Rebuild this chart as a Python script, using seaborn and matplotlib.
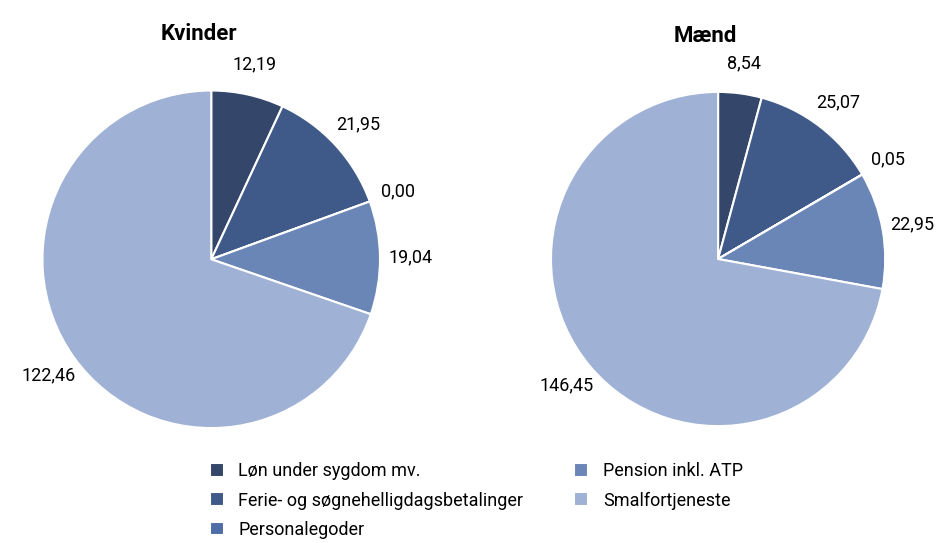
import matplotlib
matplotlib.use("Agg")
import matplotlib.pyplot as plt
from matplotlib import font_manager
import seaborn as sns

labels = ['Løn under sygdom mv.', 'Ferie- og søgnehelligdagsbetalinger',
          'Personalegoder', 'Pension inkl. ATP', 'Smalfortjeneste']
kvinder = [12.19, 21.95, 0.00, 19.04, 122.46]
maend = [8.54, 25.07, 0.05, 22.95, 146.45]
colors = ['#34466a', '#3f5a88', '#4f6ea8', '#6a86b6', '#9fb1d5']

sns.set_theme(style="white", rc={'text.color': 'black', 'axes.titlecolor': 'black'})
names = {f.name for f in font_manager.fontManager.ttflist}
fam = [n for n in ['Liberation Sans Narrow', 'DejaVu Sans Condensed', 'Roboto', 'DejaVu Sans'] if n in names]
plt.rcParams['font.family'] = fam

fig = plt.figure(figsize=(9.43, 5.43), dpi=100)
ax1 = fig.add_axes([0.0, 0.134, 0.448, 0.777])
ax2 = fig.add_axes([0.54, 0.138, 0.443, 0.77])


def draw_pie(ax, values, title):
    wedges, texts = ax.pie(values, colors=colors, startangle=90, counterclock=False,
                           labels=[f'{v:.2f}'.replace('.', ',') for v in values],
                           labeldistance=1.18,
                           wedgeprops=dict(edgecolor='white', linewidth=1.5),
                           textprops=dict(fontsize=13, color='black'))
    for t in texts:
        t.set_ha('center')
        t.set_va('center')
    ax.set_title(title, fontsize=16, fontweight='bold', pad=6, x=0.47, color='black')
    return wedges


w = draw_pie(ax1, kvinder, 'Kvinder')
draw_pie(ax2, maend, 'Mænd')

fig.legend(w, labels, ncol=2, loc='lower center', bbox_to_anchor=(0.505, -0.022),
           frameon=False, fontsize=13, handlelength=0.8, handleheight=0.8,
           columnspacing=2.8, labelspacing=0.62, labelcolor='black')

fig.savefig('out.png', dpi=100)
